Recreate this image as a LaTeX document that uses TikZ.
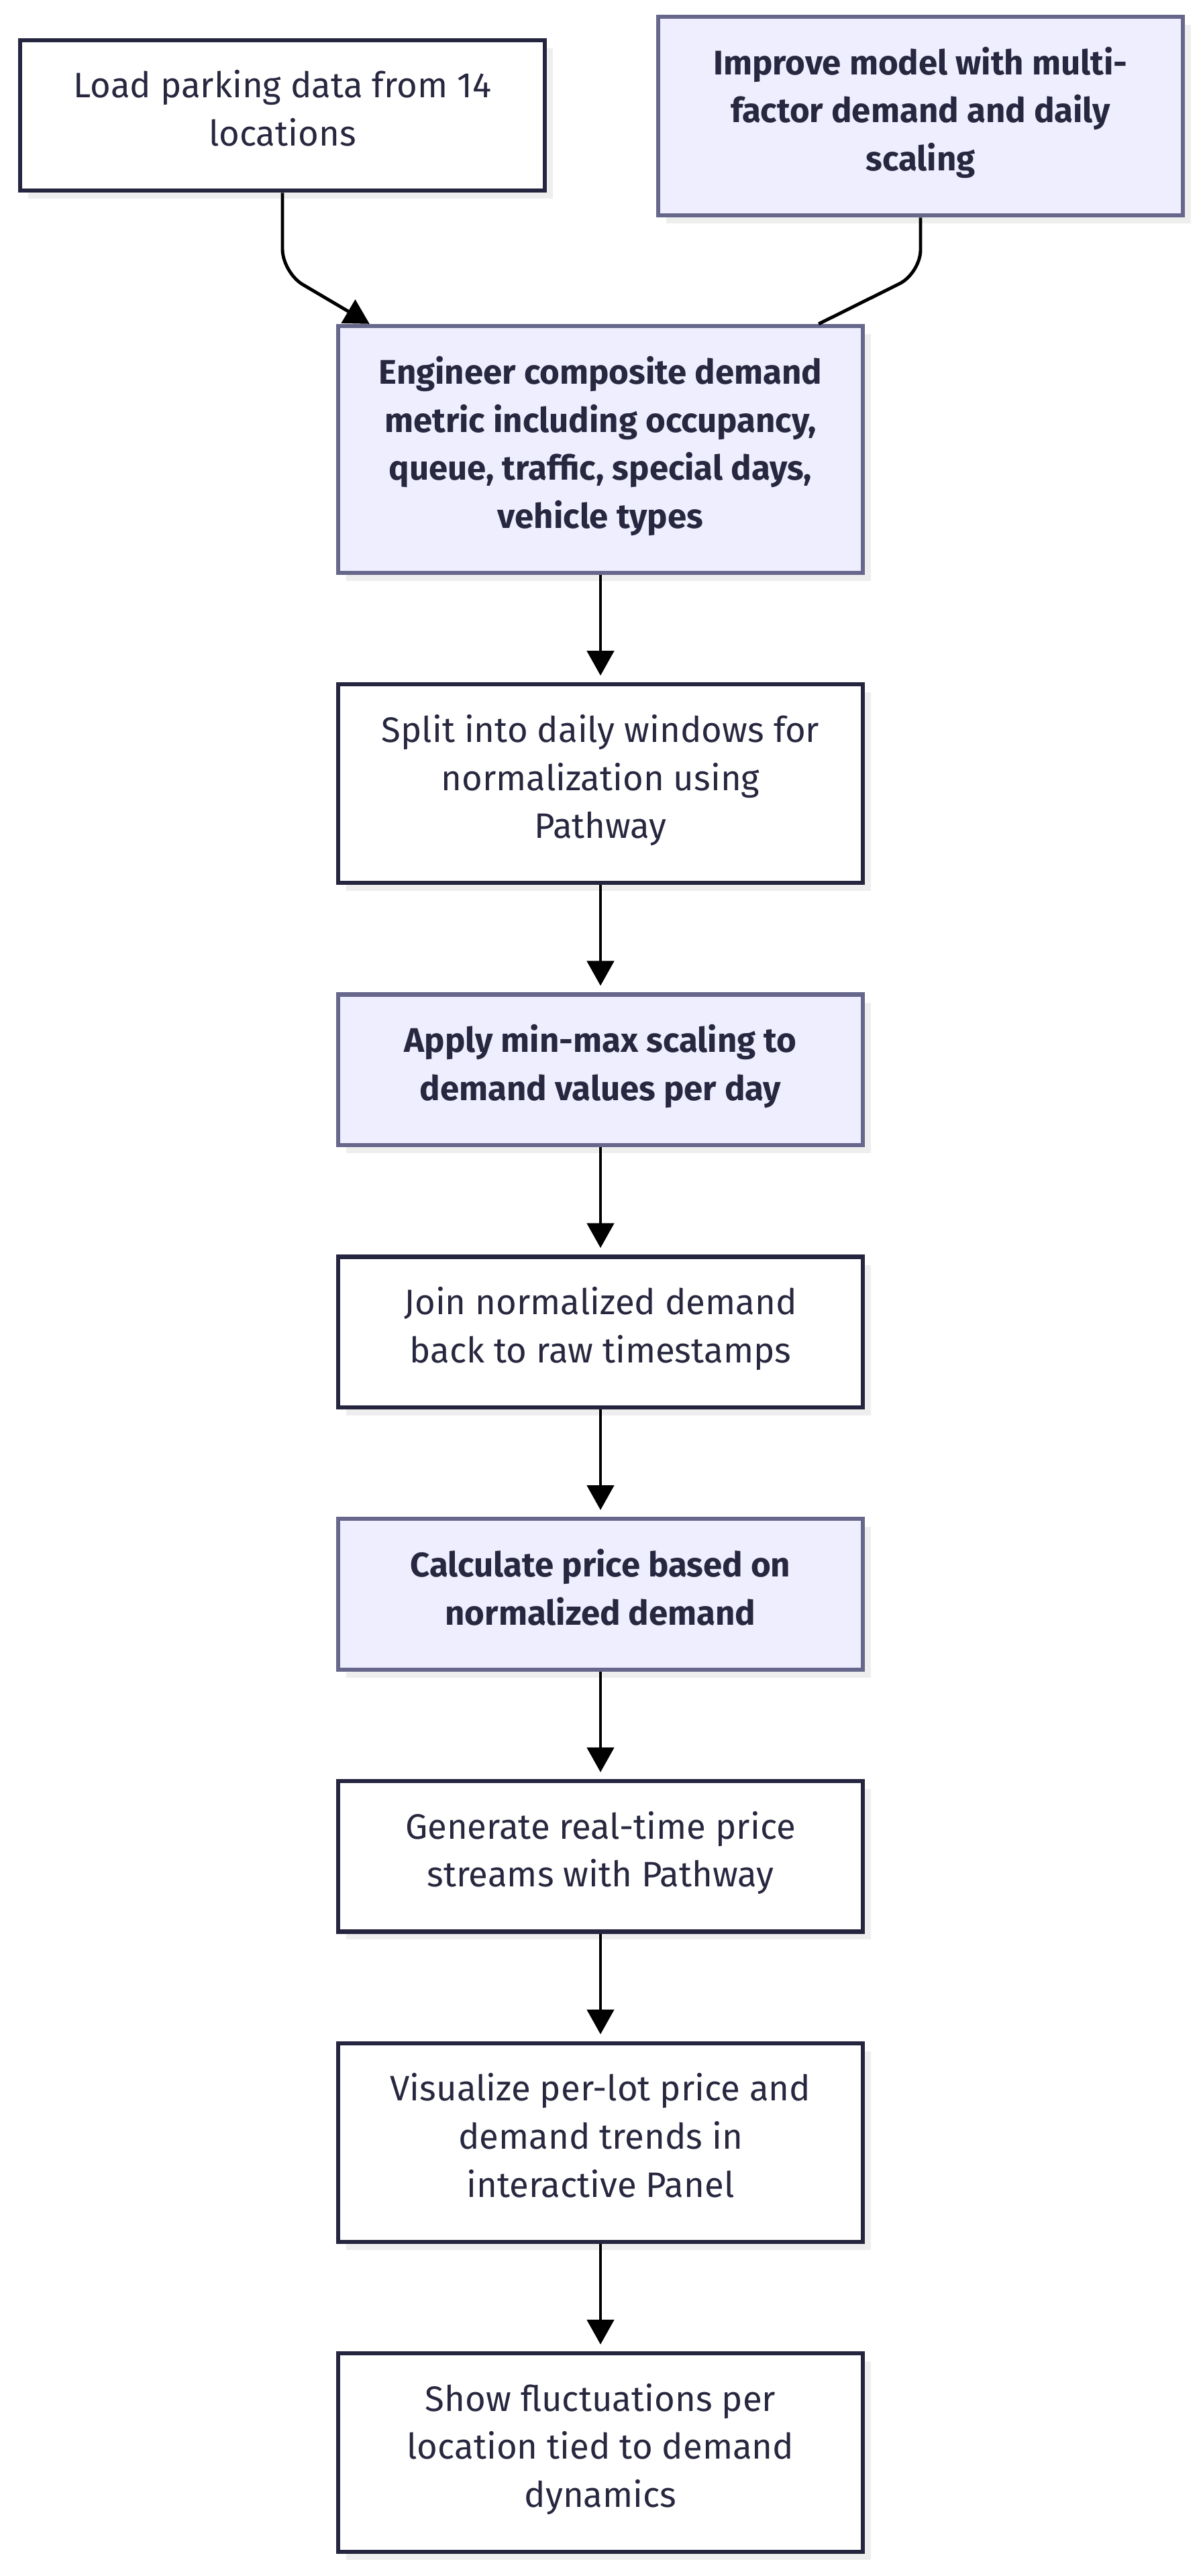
\documentclass[tikz,border=0pt]{standalone}
\usepackage{fontspec}
\setmainfont{Fira Sans}
\usetikzlibrary{positioning,shadows,arrows.meta}
\definecolor{ink}{HTML}{27273F}
\definecolor{edge}{HTML}{252540}
\definecolor{accentedge}{HTML}{67678C}
\definecolor{accentfill}{HTML}{EEEEFF}
\definecolor{shade}{HTML}{EEEEEE}
\begin{document}
\begin{tikzpicture}
  [
    node distance=1.60cm,
    box/.style={
      draw,
      line width=1.8pt,
      align=center,
      minimum width=7.82cm,
      inner xsep=0.3cm,
      inner ysep=0.45cm,
      text=ink,
      font=\fontsize{15}{20.4}\selectfont,
      execute at begin node=\strut,
      execute at end node=\strut,
      drop shadow={shadow xshift=0.12cm,shadow yshift=-0.12cm,fill=shade,opacity=1}
    },
    plain/.style={
      box,
      draw=edge,
      fill=white
    },
    accent/.style={
      box,
      draw=accentedge,
      fill=accentfill,
      font=\fontsize{14.5}{20.4}\selectfont\bfseries
    },
    link/.style={
      line width=1.4pt,
      rounded corners=0.35cm
    },
    arrow/.style={
      link,
      -{Triangle[length=0.37cm,width=0.4cm]}
    }
  ]

  \useasboundingbox (0,0) rectangle (17.92,-38.40);

  % sources
  \node [plain] (load) at (4.21,-1.72) {Load parking data from 14\\locations};
  \node [accent] (improve) at (13.72,-1.73) {Improve model with multi-\\factor demand and daily\\scaling};

  % pipeline
  \node [accent] (engineer) at (8.95,-6.70) {Engineer composite demand\\metric including occupancy,\\queue, traffic, special days,\\vehicle types};
  \node [plain, below=of engineer] (split) {Split into daily windows for\\normalization using\\Pathway};
  \node [accent, below=of split] (minmax) {Apply min-max scaling to\\demand values per day};
  \node [plain, below=of minmax] (join) {Join normalized demand\\back to raw timestamps};
  \node [accent, below=of join] (price) {Calculate price based on\\normalized demand};
  \node [plain, below=of price] (stream) {Generate real-time price\\streams with Pathway};
  \node [plain, below=of stream] (panel) {Visualize per-lot price and\\demand trends in\\interactive Panel};
  \node [plain, below=of panel] (show) {Show fluctuations per\\location tied to demand\\dynamics};

  % links
  \draw [arrow] (load.south) -- ++(0,-1.19) -- ([xshift=0.5cm]engineer.north west);
  \draw [link] (improve.south) -- ++(0,-0.83) -- ([xshift=-0.69cm]engineer.north east);
  \foreach \a/\b in {engineer/split,split/minmax,minmax/join,join/price,price/stream,stream/panel,panel/show} {
    \draw [arrow, shorten >=0.1cm] (\a) -- (\b);
  }
\end{tikzpicture}
\end{document}
